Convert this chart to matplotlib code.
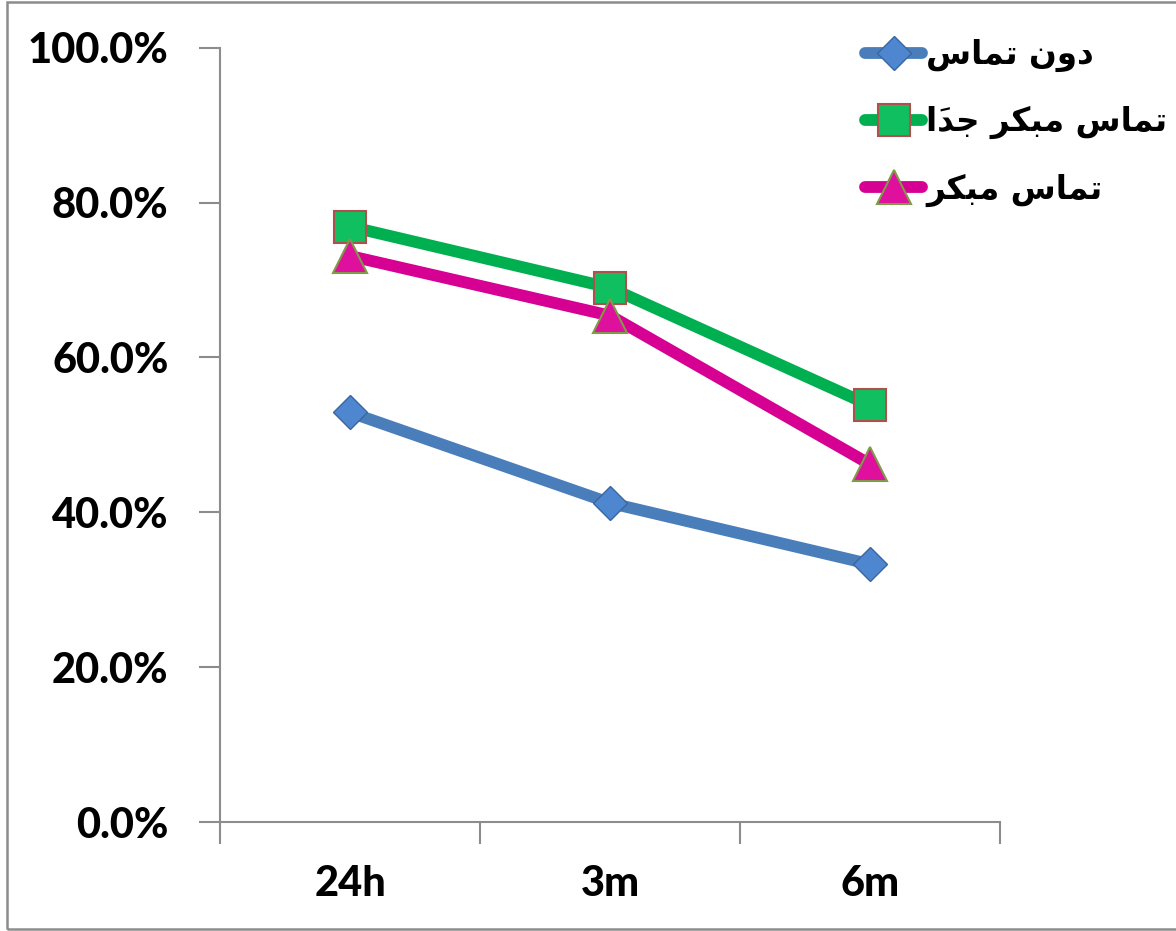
import matplotlib
matplotlib.use("Agg")
import matplotlib.pyplot as plt
from matplotlib.patches import Rectangle
from matplotlib.ticker import FuncFormatter

# ---- data ----
categories = ["24h", "3m", "6m"]
no_contact = [52.9, 41.2, 33.3]          # دون تماس
very_early = [76.9, 69.0, 53.8]          # تماس مبكر جداَ
early = [73.1, 65.4, 46.2]               # تماس مبكر
series_names = ["دون تماس", "تماس مبكر جداَ", "تماس مبكر"]
y_ticks = [0, 20, 40, 60, 80, 100]

# ---- Arabic shaping (presentation forms) since matplotlib has no shaper ----
FORMS = {  # iso, fin, ini, med
    "\u0627": ("\uFE8D", "\uFE8E", None, None),
    "\u0628": ("\uFE8F", "\uFE90", "\uFE91", "\uFE92"),
    "\u062A": ("\uFE95", "\uFE96", "\uFE97", "\uFE98"),
    "\u062C": ("\uFE9D", "\uFE9E", "\uFE9F", "\uFEA0"),
    "\u062F": ("\uFEA9", "\uFEAA", None, None),
    "\u0631": ("\uFEAD", "\uFEAE", None, None),
    "\u0633": ("\uFEB1", "\uFEB2", "\uFEB3", "\uFEB4"),
    "\u0643": ("\uFED9", "\uFEDA", "\uFEDB", "\uFEDC"),
    "\u0645": ("\uFEE1", "\uFEE2", "\uFEE3", "\uFEE4"),
    "\u0646": ("\uFEE5", "\uFEE6", "\uFEE7", "\uFEE8"),
    "\u0648": ("\uFEED", "\uFEEE", None, None),
}
MARKS = set("\u064B\u064E")


def shape(text):
    clusters = []
    for ch in text:
        if ch in MARKS and clusters:
            clusters[-1][1].append(ch)
        else:
            clusters.append([ch, []])
    bases = [c[0] for c in clusters]
    out = []
    for i, b in enumerate(bases):
        if b not in FORMS:
            out.append(b)
            continue
        prev = bases[i - 1] if i > 0 else None
        nxt = bases[i + 1] if i + 1 < len(bases) else None
        joins_prev = prev in FORMS and FORMS[prev][2] is not None
        joins_next = nxt in FORMS and FORMS[b][2] is not None
        iso, fin, ini, med = FORMS[b]
        if joins_prev and joins_next:
            out.append(med)
        elif joins_prev:
            out.append(fin)
        elif joins_next:
            out.append(ini)
        else:
            out.append(iso)
    shaped = [[out[i], clusters[i][1]] for i in range(len(clusters))]
    shaped.reverse()
    return "".join(b + "".join(m) for b, m in shaped)


W, H = 1176, 931
fig = plt.figure(figsize=(W / 100, H / 100), dpi=100)
fig.patch.set_facecolor("white")
fig.add_artist(Rectangle((7 / W, 2 / H), 1.2, (927 / H), transform=fig.transFigure,
                         fill=False, edgecolor="#8c8c8c", lw=1.8))

ax = fig.add_axes([220 / W, (931 - 822) / H, 780 / W, (822 - 47.7) / H])
x = list(range(len(categories)))

ax.plot(x, no_contact, color="#4A7EBB", lw=8.5, marker="D", markersize=17,
        markerfacecolor="#4F86D0", markeredgecolor="#3A66A0", markeredgewidth=1,
        solid_capstyle="round", label=shape(series_names[0]), zorder=3)
ax.plot(x, very_early, color="#00B050", lw=8.5, marker="s", markersize=23,
        markerfacecolor="#10C060", markeredgecolor="#B0504D", markeredgewidth=1.5,
        solid_capstyle="round", label=shape(series_names[1]), zorder=3)
ax.plot(x, early, color="#D60093", lw=8.5, marker="^", markersize=25,
        markerfacecolor="#E0109E", markeredgecolor="#7F9A48", markeredgewidth=1.5,
        solid_capstyle="round", label=shape(series_names[2]), zorder=3)

ax.set_xlim(-0.5, 2.5)
ax.set_ylim(0, 100)
ax.set_yticks(y_ticks)
ax.yaxis.set_major_formatter(FuncFormatter(lambda v, p: f"{v:.1f}%"))
ax.set_xticks([-0.5, 0.5, 1.5, 2.5])
ax.set_xticklabels([])
ax.set_xticks(x, minor=True)
ax.set_xticklabels(categories, minor=True)
ax.tick_params(axis="x", which="minor", length=0, pad=31)
ax.tick_params(axis="x", which="major", length=16, width=1.5, color="#8c8c8c", direction="out")
ax.tick_params(axis="y", length=15, width=1.5, color="#8c8c8c", direction="out", pad=22)

for lab in ax.get_yticklabels() + ax.get_xticklabels(minor=True):
    lab.set_fontfamily("Lato")
    lab.set_fontweight(900)
    lab.set_fontsize(30)

for s in ["top", "right"]:
    ax.spines[s].set_visible(False)
for s in ["left", "bottom"]:
    ax.spines[s].set_color("#8c8c8c")
    ax.spines[s].set_linewidth(1.5)

leg = fig.legend(loc="upper left", bbox_to_anchor=(865 / W, 1 - 38 / H), frameon=False,
                 prop=dict(family="DejaVu Sans", weight="bold", size=23.5),
                 handlelength=1.75, handletextpad=0.12, labelspacing=1.02,
                 borderpad=0, borderaxespad=0)

fig.savefig("out.png", dpi=100)
